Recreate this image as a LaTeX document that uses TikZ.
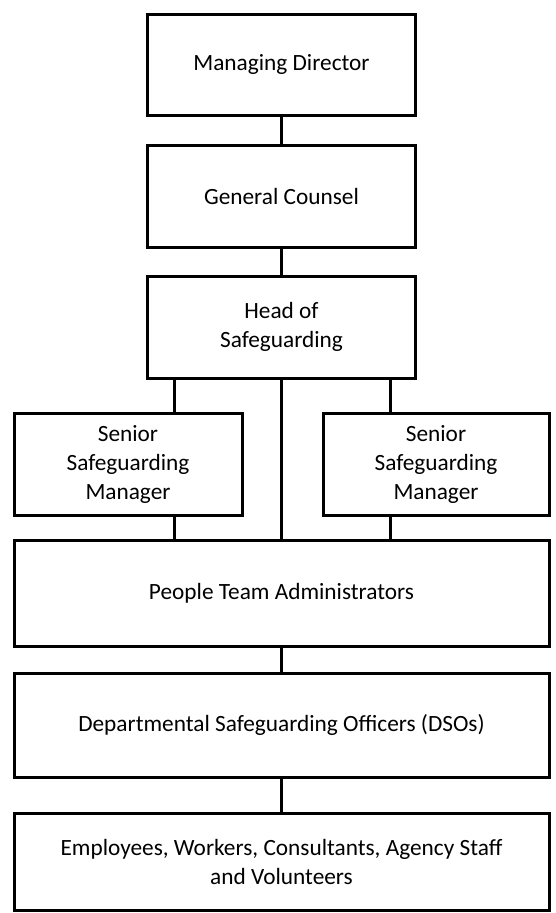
\documentclass[tikz,border=0pt]{standalone}
\usepackage{fontspec}
\setmainfont{Carlito}
\usetikzlibrary{positioning}

\begin{document}
\begin{tikzpicture}[x=1pt, y=-1pt, line width=3pt, box/.style = {draw, rectangle, outer sep=0pt, align=center, font=\fontsize{23.3}{29}\selectfont}]
		\useasboundingbox (0,0) rectangle (555,913);
		\node[box, minimum width=268pt, minimum height=101pt] (md) at (281.5,64.5) {Managing Director};
		\node[box, minimum width=268pt, minimum height=102pt] (gc) at (281.5,196) {General Counsel};
		\node[box, minimum width=268pt, minimum height=102pt] (hos) at (281.5,327) {Head of\\Safeguarding};
		\node[box, minimum width=228pt, minimum height=102pt] (sl) at (128,464) {Senior\\Safeguarding\\Manager};
		\node[box, minimum width=226pt, minimum height=102pt] (sr) at (436,464) {Senior\\Safeguarding\\Manager};
		\node[box, minimum width=535pt, minimum height=106pt] (pta) at (281.5,593) {People Team Administrators};
		\node[box, minimum width=535pt, minimum height=104pt] (dso) at (281.5,725) {Departmental Safeguarding Officers (DSOs)};
		\node[box, minimum width=535pt, minimum height=97pt] (emp) at (281.5,861.5) {Employees, Workers, Consultants, Agency Staff\\and Volunteers};
		\coordinate (lj) at (174,0);
		\coordinate (rj) at (390,0);
		
		\draw (md) -- (gc);
		\draw (gc) -- (hos);
		\draw (hos) -- (pta);
		\draw (hos.south -| lj) -- (sl.north -| lj);
		\draw (hos.south -| rj) -- (sr.north -| rj);
		\draw (sl.south -| lj) -- (pta.north -| lj);
		\draw (sr.south -| rj) -- (pta.north -| rj);
		\draw (pta) -- (dso);
		\draw (dso) -- (emp);
	\end{tikzpicture}
\end{document}
